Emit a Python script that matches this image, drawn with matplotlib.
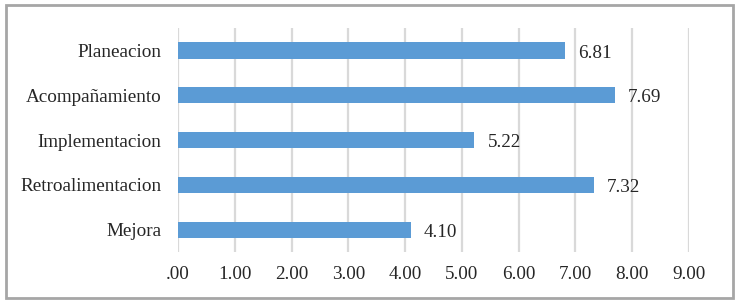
import matplotlib.pyplot as plt
from matplotlib.patches import Rectangle

categorias = ['Planeacion', 'Acompañamiento', 'Implementacion', 'Retroalimentacion', 'Mejora']
valores = [6.81, 7.69, 5.22, 7.32, 4.10]
ticks = [0, 1, 2, 3, 4, 5, 6, 7, 8, 9]
etiquetas_x = ['.00'] + ['%.2f' % t for t in ticks[1:]]

plt.rcParams['font.family'] = 'Liberation Serif'
plt.rcParams['font.size'] = 13.8

fig = plt.figure(figsize=(7.38, 3.05), dpi=100)
ax = fig.add_axes([0.2412, 0.1738, 0.6924, 0.7342])

y = list(range(len(categorias)))
ax.barh(y, valores, height=0.36, color='#5B9BD5', zorder=3)
for yi, v in zip(y, valores):
    ax.text(v + 0.23, yi + 0.06, '%.2f' % v, va='center', ha='left', color='#262626')

ax.set_xlim(0, 9)
ax.set_ylim(4.5, -0.5)
ax.set_yticks(y)
ax.set_yticklabels(categorias, color='#262626')
ax.set_xticks(ticks)
ax.set_xticklabels(etiquetas_x, color='#262626')
ax.tick_params(length=0, pad=10)
ax.tick_params(axis='y', pad=12)
ax.grid(axis='x', color='#D9D9D9', linewidth=1.6, zorder=0)
for s in ax.spines.values():
    s.set_visible(False)

fig.patches.append(Rectangle((0.008, 0.022), 0.985, 0.963, transform=fig.transFigure,
                             fill=False, edgecolor='#A6A6A6', linewidth=2))

fig.savefig('out.png', dpi=100)
